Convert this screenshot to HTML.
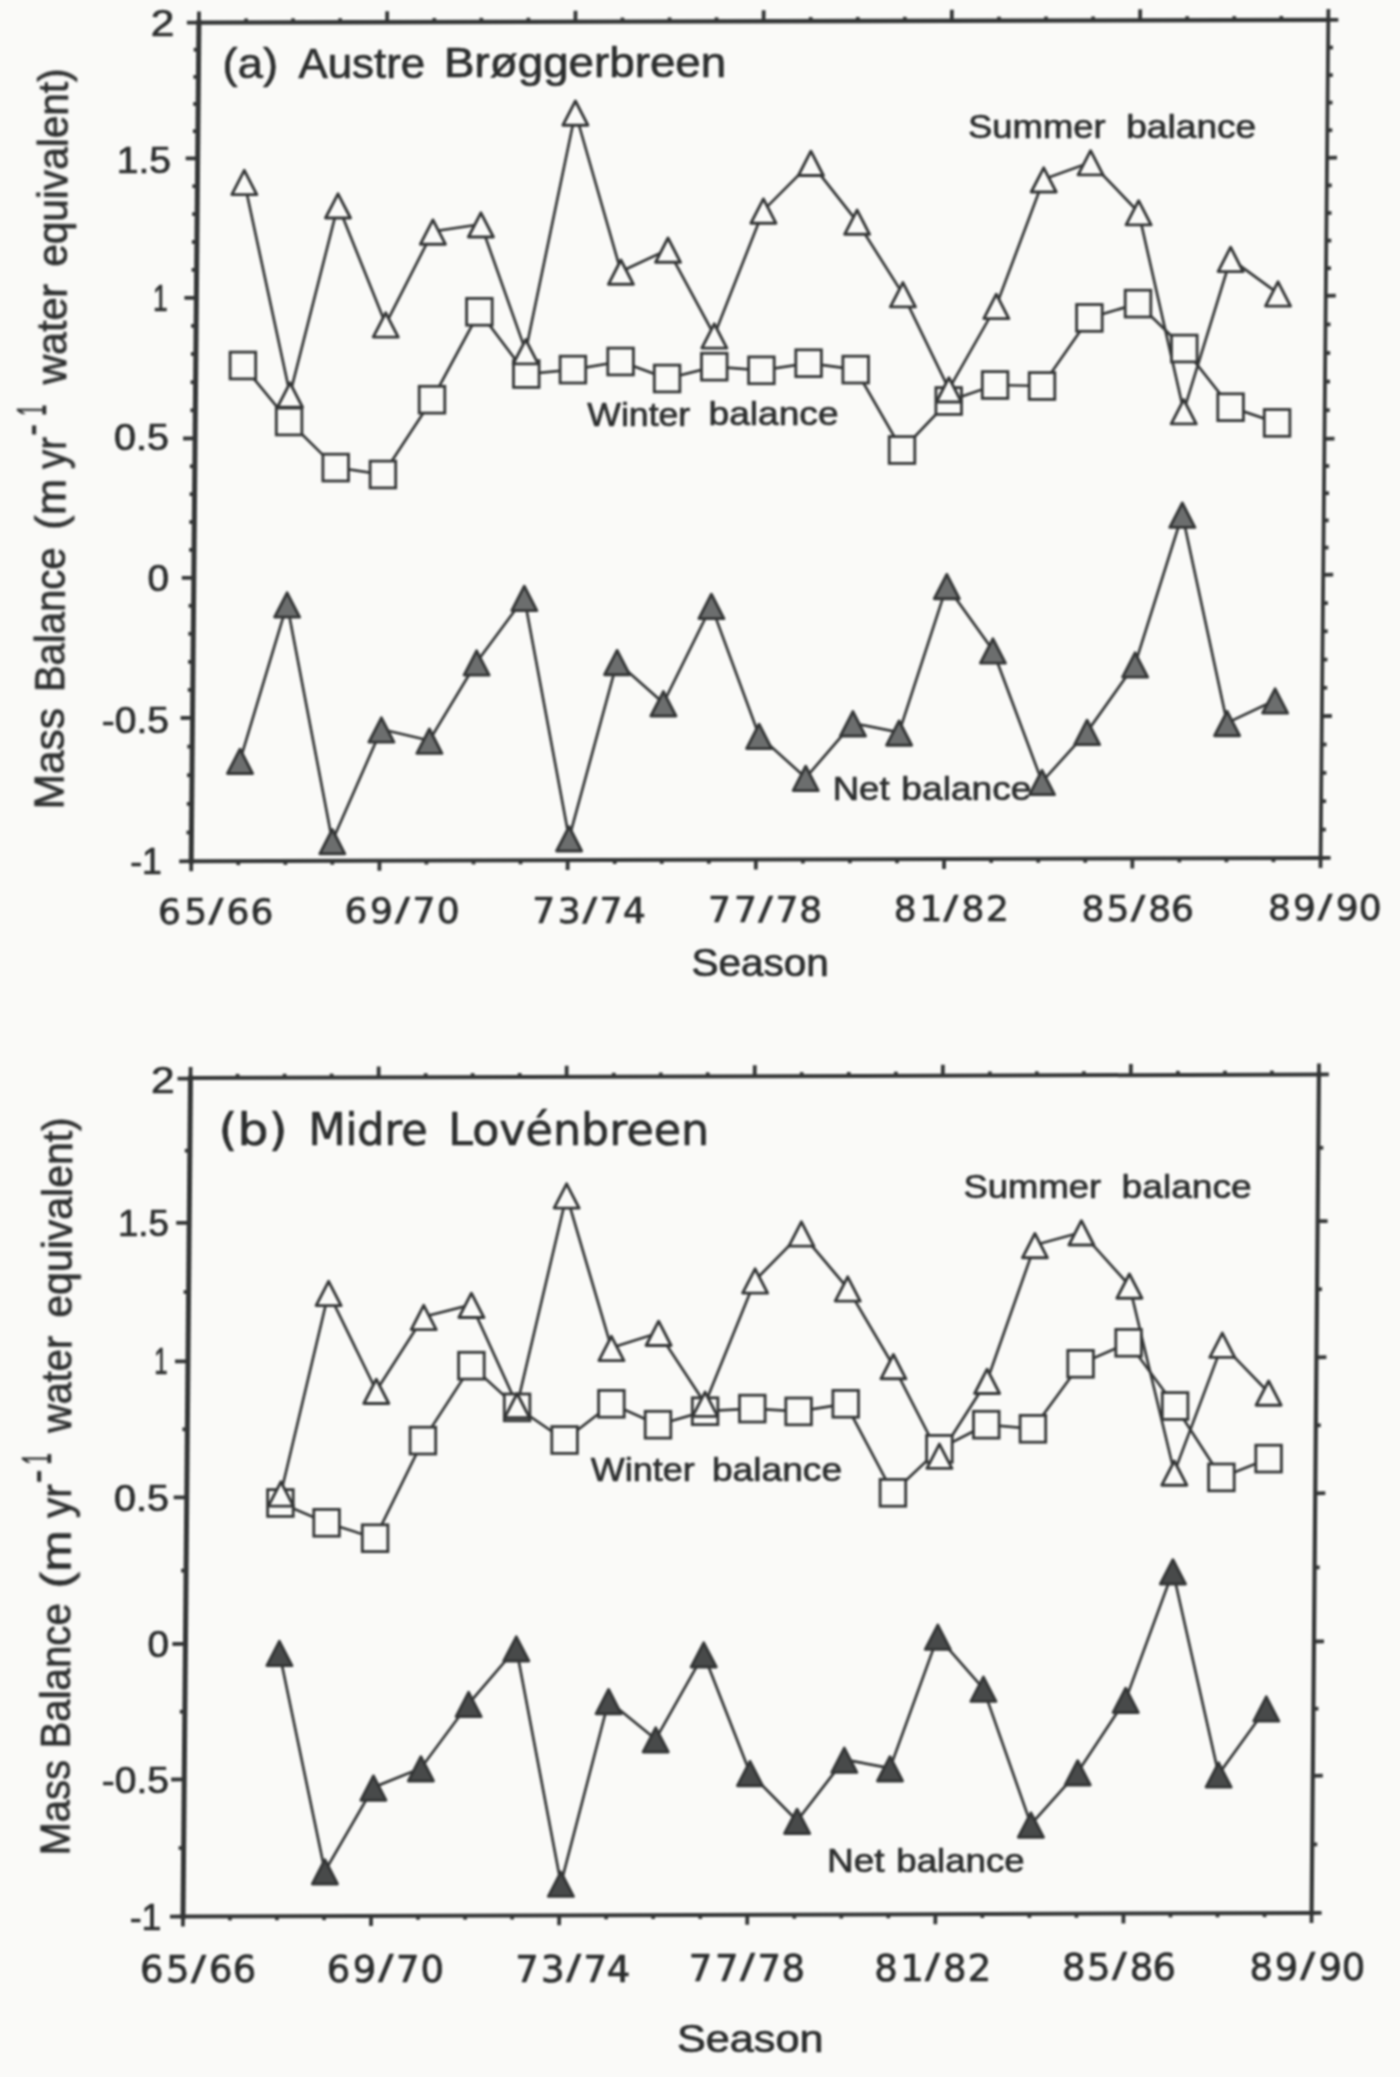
<!DOCTYPE html>
<html lang="en"><head><meta charset="utf-8"><title>Mass balance of Austre Brøggerbreen and Midre Lovénbreen</title>
<style>html,body{margin:0;padding:0;background:#fafaf8}body{width:1400px;height:2077px;overflow:hidden}svg{display:block}text{fill:#2c2e2e;stroke:#2c2e2e;stroke-width:0.7px;stroke-linejoin:round;white-space:pre}</style>
</head><body>
<svg width="1400" height="2077" viewBox="0 0 1400 2077">
<rect x="0" y="0" width="1400" height="2077" fill="#fafaf8"/>
<defs><filter id="soft" x="0" y="0" width="100%" height="100%" filterUnits="userSpaceOnUse" color-interpolation-filters="sRGB"><feGaussianBlur stdDeviation="0.85"/></filter></defs>
<g filter="url(#soft)">
<g stroke="#333535" fill="none" stroke-linecap="butt">
<path d="M191.2,861.2 L198.9,22.6" stroke-width="5.0" stroke-linecap="square"/>
<path d="M198.9,22.6 L1328.3,19.9" stroke-width="4.4" stroke-linecap="square"/>
<path d="M1328.3,19.9 L1320.6,858.0" stroke-width="3.8" stroke-linecap="square"/>
<path d="M1320.6,858.0 L191.2,861.2" stroke-width="4.0" stroke-linecap="square"/>
<line x1="198.9" y1="22.6" x2="199.0" y2="11.6" stroke-width="3.8"/>
<line x1="191.2" y1="861.2" x2="191.2" y2="871.2" stroke-width="3.8"/>
<line x1="246.0" y1="22.5" x2="246.1" y2="18.5" stroke-width="3.8"/>
<line x1="238.3" y1="861.1" x2="238.2" y2="865.1" stroke-width="3.8"/>
<line x1="293.0" y1="22.4" x2="293.1" y2="18.4" stroke-width="3.8"/>
<line x1="285.4" y1="860.9" x2="285.3" y2="864.9" stroke-width="3.8"/>
<line x1="340.1" y1="22.3" x2="340.2" y2="18.3" stroke-width="3.8"/>
<line x1="332.4" y1="860.8" x2="332.3" y2="864.8" stroke-width="3.8"/>
<line x1="387.1" y1="22.2" x2="387.2" y2="11.2" stroke-width="3.8"/>
<line x1="379.5" y1="860.7" x2="379.4" y2="870.7" stroke-width="3.8"/>
<line x1="434.2" y1="22.0" x2="434.3" y2="18.0" stroke-width="3.8"/>
<line x1="426.5" y1="860.5" x2="426.4" y2="864.5" stroke-width="3.8"/>
<line x1="481.2" y1="21.9" x2="481.4" y2="17.9" stroke-width="3.8"/>
<line x1="473.6" y1="860.4" x2="473.5" y2="864.4" stroke-width="3.8"/>
<line x1="528.3" y1="21.8" x2="528.4" y2="17.8" stroke-width="3.8"/>
<line x1="520.6" y1="860.3" x2="520.5" y2="864.3" stroke-width="3.8"/>
<line x1="575.4" y1="21.7" x2="575.5" y2="10.7" stroke-width="3.8"/>
<line x1="567.7" y1="860.1" x2="567.6" y2="870.1" stroke-width="3.8"/>
<line x1="622.4" y1="21.6" x2="622.5" y2="17.6" stroke-width="3.8"/>
<line x1="614.8" y1="860.0" x2="614.7" y2="864.0" stroke-width="3.8"/>
<line x1="669.5" y1="21.5" x2="669.6" y2="17.5" stroke-width="3.8"/>
<line x1="661.8" y1="859.9" x2="661.7" y2="863.9" stroke-width="3.8"/>
<line x1="716.5" y1="21.4" x2="716.6" y2="17.4" stroke-width="3.8"/>
<line x1="708.9" y1="859.7" x2="708.8" y2="863.7" stroke-width="3.8"/>
<line x1="763.6" y1="21.2" x2="763.7" y2="10.2" stroke-width="3.8"/>
<line x1="755.9" y1="859.6" x2="755.8" y2="869.6" stroke-width="3.8"/>
<line x1="810.7" y1="21.1" x2="810.8" y2="17.1" stroke-width="3.8"/>
<line x1="803.0" y1="859.5" x2="802.9" y2="863.5" stroke-width="3.8"/>
<line x1="857.7" y1="21.0" x2="857.8" y2="17.0" stroke-width="3.8"/>
<line x1="850.0" y1="859.3" x2="849.9" y2="863.3" stroke-width="3.8"/>
<line x1="904.8" y1="20.9" x2="904.9" y2="16.9" stroke-width="3.8"/>
<line x1="897.1" y1="859.2" x2="897.0" y2="863.2" stroke-width="3.8"/>
<line x1="951.8" y1="20.8" x2="951.9" y2="9.8" stroke-width="3.8"/>
<line x1="944.1" y1="859.1" x2="944.0" y2="869.1" stroke-width="3.8"/>
<line x1="998.9" y1="20.7" x2="999.0" y2="16.7" stroke-width="3.8"/>
<line x1="991.2" y1="858.9" x2="991.1" y2="862.9" stroke-width="3.8"/>
<line x1="1046.0" y1="20.6" x2="1046.0" y2="16.6" stroke-width="3.8"/>
<line x1="1038.3" y1="858.8" x2="1038.2" y2="862.8" stroke-width="3.8"/>
<line x1="1093.0" y1="20.5" x2="1093.1" y2="16.5" stroke-width="3.8"/>
<line x1="1085.3" y1="858.7" x2="1085.2" y2="862.7" stroke-width="3.8"/>
<line x1="1140.1" y1="20.3" x2="1140.2" y2="9.3" stroke-width="3.8"/>
<line x1="1132.4" y1="858.5" x2="1132.3" y2="868.5" stroke-width="3.8"/>
<line x1="1187.1" y1="20.2" x2="1187.2" y2="16.2" stroke-width="3.8"/>
<line x1="1179.4" y1="858.4" x2="1179.3" y2="862.4" stroke-width="3.8"/>
<line x1="1234.2" y1="20.1" x2="1234.3" y2="16.1" stroke-width="3.8"/>
<line x1="1226.5" y1="858.3" x2="1226.4" y2="862.3" stroke-width="3.8"/>
<line x1="1281.2" y1="20.0" x2="1281.3" y2="16.0" stroke-width="3.8"/>
<line x1="1273.5" y1="858.1" x2="1273.4" y2="862.1" stroke-width="3.8"/>
<line x1="1328.3" y1="19.9" x2="1328.4" y2="8.9" stroke-width="3.8"/>
<line x1="1320.6" y1="858.0" x2="1320.5" y2="868.0" stroke-width="3.8"/>
<line x1="186.9" y1="22.7" x2="198.9" y2="22.6" stroke-width="3.8"/>
<line x1="1328.3" y1="19.9" x2="1338.3" y2="19.8" stroke-width="3.8"/>
<line x1="193.7" y1="49.7" x2="198.7" y2="49.7" stroke-width="3.8"/>
<line x1="1328.0" y1="47.5" x2="1333.0" y2="47.5" stroke-width="3.8"/>
<line x1="193.4" y1="76.9" x2="198.4" y2="76.9" stroke-width="3.8"/>
<line x1="1327.8" y1="75.1" x2="1332.8" y2="75.1" stroke-width="3.8"/>
<line x1="193.2" y1="104.0" x2="198.2" y2="104.0" stroke-width="3.8"/>
<line x1="1327.5" y1="102.6" x2="1332.5" y2="102.6" stroke-width="3.8"/>
<line x1="192.9" y1="131.2" x2="197.9" y2="131.2" stroke-width="3.8"/>
<line x1="1327.3" y1="130.2" x2="1332.3" y2="130.2" stroke-width="3.8"/>
<line x1="185.7" y1="158.4" x2="197.7" y2="158.3" stroke-width="3.8"/>
<line x1="1327.0" y1="157.8" x2="1337.0" y2="157.7" stroke-width="3.8"/>
<line x1="192.4" y1="186.2" x2="197.4" y2="186.2" stroke-width="3.8"/>
<line x1="1326.8" y1="185.4" x2="1331.8" y2="185.4" stroke-width="3.8"/>
<line x1="192.2" y1="214.1" x2="197.2" y2="214.1" stroke-width="3.8"/>
<line x1="1326.5" y1="213.0" x2="1331.5" y2="213.0" stroke-width="3.8"/>
<line x1="191.9" y1="242.0" x2="196.9" y2="242.0" stroke-width="3.8"/>
<line x1="1326.3" y1="240.6" x2="1331.3" y2="240.6" stroke-width="3.8"/>
<line x1="191.6" y1="269.9" x2="196.6" y2="269.9" stroke-width="3.8"/>
<line x1="1326.0" y1="268.2" x2="1331.0" y2="268.2" stroke-width="3.8"/>
<line x1="184.4" y1="297.9" x2="196.4" y2="297.8" stroke-width="3.8"/>
<line x1="1325.8" y1="295.8" x2="1335.8" y2="295.7" stroke-width="3.8"/>
<line x1="191.1" y1="325.9" x2="196.1" y2="325.9" stroke-width="3.8"/>
<line x1="1325.5" y1="324.4" x2="1330.5" y2="324.4" stroke-width="3.8"/>
<line x1="190.9" y1="354.0" x2="195.9" y2="354.0" stroke-width="3.8"/>
<line x1="1325.2" y1="353.0" x2="1330.2" y2="353.0" stroke-width="3.8"/>
<line x1="190.6" y1="382.2" x2="195.6" y2="382.2" stroke-width="3.8"/>
<line x1="1325.0" y1="381.6" x2="1330.0" y2="381.6" stroke-width="3.8"/>
<line x1="190.4" y1="410.3" x2="195.4" y2="410.3" stroke-width="3.8"/>
<line x1="1324.7" y1="410.2" x2="1329.7" y2="410.2" stroke-width="3.8"/>
<line x1="183.1" y1="438.5" x2="195.1" y2="438.4" stroke-width="3.8"/>
<line x1="1324.5" y1="438.8" x2="1334.5" y2="438.7" stroke-width="3.8"/>
<line x1="189.9" y1="466.3" x2="194.9" y2="466.3" stroke-width="3.8"/>
<line x1="1324.2" y1="466.0" x2="1329.2" y2="466.0" stroke-width="3.8"/>
<line x1="189.6" y1="494.2" x2="194.6" y2="494.2" stroke-width="3.8"/>
<line x1="1324.0" y1="493.2" x2="1329.0" y2="493.2" stroke-width="3.8"/>
<line x1="189.3" y1="522.0" x2="194.3" y2="522.0" stroke-width="3.8"/>
<line x1="1323.7" y1="520.4" x2="1328.7" y2="520.4" stroke-width="3.8"/>
<line x1="189.1" y1="549.9" x2="194.1" y2="549.9" stroke-width="3.8"/>
<line x1="1323.5" y1="547.6" x2="1328.5" y2="547.6" stroke-width="3.8"/>
<line x1="181.8" y1="577.9" x2="193.8" y2="577.8" stroke-width="3.8"/>
<line x1="1323.2" y1="574.8" x2="1333.2" y2="574.7" stroke-width="3.8"/>
<line x1="188.6" y1="605.8" x2="193.6" y2="605.8" stroke-width="3.8"/>
<line x1="1322.9" y1="603.1" x2="1327.9" y2="603.1" stroke-width="3.8"/>
<line x1="188.3" y1="633.8" x2="193.3" y2="633.8" stroke-width="3.8"/>
<line x1="1322.7" y1="631.3" x2="1327.7" y2="631.3" stroke-width="3.8"/>
<line x1="188.1" y1="661.9" x2="193.1" y2="661.9" stroke-width="3.8"/>
<line x1="1322.4" y1="659.6" x2="1327.4" y2="659.6" stroke-width="3.8"/>
<line x1="187.8" y1="689.9" x2="192.8" y2="689.9" stroke-width="3.8"/>
<line x1="1322.2" y1="687.8" x2="1327.2" y2="687.8" stroke-width="3.8"/>
<line x1="180.6" y1="718.0" x2="192.6" y2="717.9" stroke-width="3.8"/>
<line x1="1321.9" y1="716.1" x2="1331.9" y2="716.0" stroke-width="3.8"/>
<line x1="187.3" y1="746.6" x2="192.3" y2="746.6" stroke-width="3.8"/>
<line x1="1321.6" y1="744.5" x2="1326.6" y2="744.5" stroke-width="3.8"/>
<line x1="187.0" y1="775.2" x2="192.0" y2="775.2" stroke-width="3.8"/>
<line x1="1321.4" y1="772.9" x2="1326.4" y2="772.9" stroke-width="3.8"/>
<line x1="186.8" y1="803.9" x2="191.8" y2="803.9" stroke-width="3.8"/>
<line x1="1321.1" y1="801.2" x2="1326.1" y2="801.2" stroke-width="3.8"/>
<line x1="186.5" y1="832.5" x2="191.5" y2="832.5" stroke-width="3.8"/>
<line x1="1320.9" y1="829.6" x2="1325.9" y2="829.6" stroke-width="3.8"/>
<line x1="179.2" y1="861.3" x2="191.2" y2="861.2" stroke-width="3.8"/>
<line x1="1320.6" y1="858.0" x2="1330.6" y2="857.9" stroke-width="3.8"/>
</g>
<g stroke="#333535" stroke-linejoin="miter">
<polyline points="242.9,365.4 289.1,421.5 335.7,467.6 382.9,474.5 432.0,399.7 479.4,311.8 526.3,374.0 572.9,369.6 620.6,361.5 667.1,378.5 714.3,366.7 761.4,370.3 808.6,363.1 855.7,369.6 902.0,450.0 948.7,401.0 995.1,385.0 1042.0,386.0 1089.4,317.9 1138.0,303.6 1184.3,348.5 1230.6,407.1 1277.1,422.9" fill="none" stroke-width="2.7"/>
<polyline points="244.3,181.8 290.0,394.2 338.0,205.2 385.7,324.2 432.9,231.4 480.9,224.2 525.7,351.1 575.4,112.5 620.9,271.5 668.0,249.5 714.3,335.2 763.4,210.4 810.9,162.8 857.1,221.6 902.9,294.1 948.9,389.2 996.3,305.8 1043.7,179.2 1090.6,162.2 1138.6,212.2 1183.7,411.1 1230.6,258.8 1278.0,293.3" fill="none" stroke-width="2.7"/>
<polyline points="240.0,760.7 287.1,604.2 332.3,841.0 381.4,729.3 429.4,740.5 476.6,662.2 524.3,597.8 569.1,838.2 617.1,661.9 663.4,703.1 711.4,605.8 759.1,735.8 805.7,777.8 852.9,723.1 899.1,732.4 946.8,585.9 992.9,650.2 1042.0,781.8 1087.1,731.8 1135.1,664.2 1182.3,514.5 1227.1,722.9 1275.1,700.2" fill="none" stroke-width="2.7"/>
<rect x="230.1" y="352.1" width="25.6" height="26.8" fill="#fafaf8" stroke-width="2.8"/>
<rect x="276.3" y="408.1" width="25.6" height="26.8" fill="#fafaf8" stroke-width="2.8"/>
<rect x="322.9" y="454.2" width="25.6" height="26.8" fill="#fafaf8" stroke-width="2.8"/>
<rect x="370.1" y="461.1" width="25.6" height="26.8" fill="#fafaf8" stroke-width="2.8"/>
<rect x="419.2" y="386.3" width="25.6" height="26.8" fill="#fafaf8" stroke-width="2.8"/>
<rect x="466.6" y="298.4" width="25.6" height="26.8" fill="#fafaf8" stroke-width="2.8"/>
<rect x="513.5" y="360.6" width="25.6" height="26.8" fill="#fafaf8" stroke-width="2.8"/>
<rect x="560.1" y="356.2" width="25.6" height="26.8" fill="#fafaf8" stroke-width="2.8"/>
<rect x="607.8" y="348.1" width="25.6" height="26.8" fill="#fafaf8" stroke-width="2.8"/>
<rect x="654.3" y="365.1" width="25.6" height="26.8" fill="#fafaf8" stroke-width="2.8"/>
<rect x="701.5" y="353.3" width="25.6" height="26.8" fill="#fafaf8" stroke-width="2.8"/>
<rect x="748.6" y="356.9" width="25.6" height="26.8" fill="#fafaf8" stroke-width="2.8"/>
<rect x="795.8" y="349.8" width="25.6" height="26.8" fill="#fafaf8" stroke-width="2.8"/>
<rect x="842.9" y="356.2" width="25.6" height="26.8" fill="#fafaf8" stroke-width="2.8"/>
<rect x="889.2" y="436.6" width="25.6" height="26.8" fill="#fafaf8" stroke-width="2.8"/>
<rect x="935.9" y="387.6" width="25.6" height="26.8" fill="#fafaf8" stroke-width="2.8"/>
<rect x="982.3" y="371.6" width="25.6" height="26.8" fill="#fafaf8" stroke-width="2.8"/>
<rect x="1029.2" y="372.6" width="25.6" height="26.8" fill="#fafaf8" stroke-width="2.8"/>
<rect x="1076.6" y="304.5" width="25.6" height="26.8" fill="#fafaf8" stroke-width="2.8"/>
<rect x="1125.2" y="290.2" width="25.6" height="26.8" fill="#fafaf8" stroke-width="2.8"/>
<rect x="1171.5" y="335.1" width="25.6" height="26.8" fill="#fafaf8" stroke-width="2.8"/>
<rect x="1217.8" y="393.8" width="25.6" height="26.8" fill="#fafaf8" stroke-width="2.8"/>
<rect x="1264.3" y="409.5" width="25.6" height="26.8" fill="#fafaf8" stroke-width="2.8"/>
<polygon points="244.3,170.3 256.8,194.6 231.8,194.6" fill="#fafaf8" stroke-width="2.9" stroke-linejoin="round"/>
<polygon points="290.0,382.8 302.5,407.1 277.5,407.1" fill="#fafaf8" stroke-width="2.9" stroke-linejoin="round"/>
<polygon points="338.0,193.8 350.5,218.0 325.5,218.0" fill="#fafaf8" stroke-width="2.9" stroke-linejoin="round"/>
<polygon points="385.7,312.8 398.2,337.1 373.2,337.1" fill="#fafaf8" stroke-width="2.9" stroke-linejoin="round"/>
<polygon points="432.9,219.9 445.4,244.2 420.4,244.2" fill="#fafaf8" stroke-width="2.9" stroke-linejoin="round"/>
<polygon points="480.9,212.8 493.4,237.0 468.4,237.0" fill="#fafaf8" stroke-width="2.9" stroke-linejoin="round"/>
<polygon points="525.7,339.6 538.2,363.9 513.2,363.9" fill="#fafaf8" stroke-width="2.9" stroke-linejoin="round"/>
<polygon points="575.4,101.0 587.9,125.2 562.9,125.2" fill="#fafaf8" stroke-width="2.9" stroke-linejoin="round"/>
<polygon points="620.9,260.0 633.4,284.3 608.4,284.3" fill="#fafaf8" stroke-width="2.9" stroke-linejoin="round"/>
<polygon points="668.0,238.0 680.5,262.3 655.5,262.3" fill="#fafaf8" stroke-width="2.9" stroke-linejoin="round"/>
<polygon points="714.3,323.8 726.8,348.1 701.8,348.1" fill="#fafaf8" stroke-width="2.9" stroke-linejoin="round"/>
<polygon points="763.4,198.9 775.9,223.2 750.9,223.2" fill="#fafaf8" stroke-width="2.9" stroke-linejoin="round"/>
<polygon points="810.9,151.2 823.4,175.5 798.4,175.5" fill="#fafaf8" stroke-width="2.9" stroke-linejoin="round"/>
<polygon points="857.1,210.1 869.6,234.3 844.6,234.3" fill="#fafaf8" stroke-width="2.9" stroke-linejoin="round"/>
<polygon points="902.9,282.6 915.4,306.9 890.4,306.9" fill="#fafaf8" stroke-width="2.9" stroke-linejoin="round"/>
<polygon points="948.9,377.7 961.4,402.0 936.4,402.0" fill="#fafaf8" stroke-width="2.9" stroke-linejoin="round"/>
<polygon points="996.3,294.2 1008.8,318.6 983.8,318.6" fill="#fafaf8" stroke-width="2.9" stroke-linejoin="round"/>
<polygon points="1043.7,167.8 1056.2,192.0 1031.2,192.0" fill="#fafaf8" stroke-width="2.9" stroke-linejoin="round"/>
<polygon points="1090.6,150.7 1103.1,174.9 1078.1,174.9" fill="#fafaf8" stroke-width="2.9" stroke-linejoin="round"/>
<polygon points="1138.6,200.7 1151.1,224.9 1126.1,224.9" fill="#fafaf8" stroke-width="2.9" stroke-linejoin="round"/>
<polygon points="1183.7,399.6 1196.2,423.9 1171.2,423.9" fill="#fafaf8" stroke-width="2.9" stroke-linejoin="round"/>
<polygon points="1230.6,247.2 1243.1,271.6 1218.1,271.6" fill="#fafaf8" stroke-width="2.9" stroke-linejoin="round"/>
<polygon points="1278.0,281.8 1290.5,306.1 1265.5,306.1" fill="#fafaf8" stroke-width="2.9" stroke-linejoin="round"/>
<polygon points="240.0,749.2 252.5,773.5 227.5,773.5" fill="#6c6e6e" stroke-width="2.9" stroke-linejoin="round"/>
<polygon points="287.1,592.8 299.6,617.1 274.6,617.1" fill="#6c6e6e" stroke-width="2.9" stroke-linejoin="round"/>
<polygon points="332.3,829.5 344.8,853.8 319.8,853.8" fill="#6c6e6e" stroke-width="2.9" stroke-linejoin="round"/>
<polygon points="381.4,717.8 393.9,742.1 368.9,742.1" fill="#6c6e6e" stroke-width="2.9" stroke-linejoin="round"/>
<polygon points="429.4,729.0 441.9,753.4 416.9,753.4" fill="#6c6e6e" stroke-width="2.9" stroke-linejoin="round"/>
<polygon points="476.6,650.8 489.1,675.1 464.1,675.1" fill="#6c6e6e" stroke-width="2.9" stroke-linejoin="round"/>
<polygon points="524.3,586.2 536.8,610.6 511.8,610.6" fill="#6c6e6e" stroke-width="2.9" stroke-linejoin="round"/>
<polygon points="569.1,826.7 581.6,851.0 556.6,851.0" fill="#6c6e6e" stroke-width="2.9" stroke-linejoin="round"/>
<polygon points="617.1,650.4 629.6,674.7 604.6,674.7" fill="#6c6e6e" stroke-width="2.9" stroke-linejoin="round"/>
<polygon points="663.4,691.6 675.9,716.0 650.9,716.0" fill="#6c6e6e" stroke-width="2.9" stroke-linejoin="round"/>
<polygon points="711.4,594.2 723.9,618.6 698.9,618.6" fill="#6c6e6e" stroke-width="2.9" stroke-linejoin="round"/>
<polygon points="759.1,724.2 771.6,748.6 746.6,748.6" fill="#6c6e6e" stroke-width="2.9" stroke-linejoin="round"/>
<polygon points="805.7,766.2 818.2,790.6 793.2,790.6" fill="#6c6e6e" stroke-width="2.9" stroke-linejoin="round"/>
<polygon points="852.9,711.6 865.4,736.0 840.4,736.0" fill="#6c6e6e" stroke-width="2.9" stroke-linejoin="round"/>
<polygon points="899.1,720.9 911.6,745.2 886.6,745.2" fill="#6c6e6e" stroke-width="2.9" stroke-linejoin="round"/>
<polygon points="946.8,574.4 959.3,598.7 934.3,598.7" fill="#6c6e6e" stroke-width="2.9" stroke-linejoin="round"/>
<polygon points="992.9,638.8 1005.4,663.1 980.4,663.1" fill="#6c6e6e" stroke-width="2.9" stroke-linejoin="round"/>
<polygon points="1042.0,770.3 1054.5,794.6 1029.5,794.6" fill="#6c6e6e" stroke-width="2.9" stroke-linejoin="round"/>
<polygon points="1087.1,720.2 1099.6,744.6 1074.6,744.6" fill="#6c6e6e" stroke-width="2.9" stroke-linejoin="round"/>
<polygon points="1135.1,652.8 1147.6,677.1 1122.6,677.1" fill="#6c6e6e" stroke-width="2.9" stroke-linejoin="round"/>
<polygon points="1182.3,503.0 1194.8,527.4 1169.8,527.4" fill="#6c6e6e" stroke-width="2.9" stroke-linejoin="round"/>
<polygon points="1227.1,711.4 1239.6,735.7 1214.6,735.7" fill="#6c6e6e" stroke-width="2.9" stroke-linejoin="round"/>
<polygon points="1275.1,688.8 1287.6,713.1 1262.6,713.1" fill="#6c6e6e" stroke-width="2.9" stroke-linejoin="round"/>
</g>
<text x="150.7" y="36.4" font-family="'Liberation Sans', sans-serif" font-size="36" stroke-width="1.3" textLength="23.6" lengthAdjust="spacingAndGlyphs">2</text>
<text x="116.7" y="172.7" font-family="'Liberation Sans', sans-serif" font-size="36" stroke-width="1.3" textLength="54.4" lengthAdjust="spacingAndGlyphs">1.5</text>
<text x="153.1" y="311.3" font-family="'Liberation Sans', sans-serif" font-size="36" stroke-width="1.3" textLength="14.7" lengthAdjust="spacingAndGlyphs">1</text>
<text x="114.1" y="449.5" font-family="'Liberation Sans', sans-serif" font-size="36" stroke-width="1.3" textLength="55.0" lengthAdjust="spacingAndGlyphs">0.5</text>
<text x="147.4" y="591.3" font-family="'Liberation Sans', sans-serif" font-size="36" stroke-width="1.3" textLength="21.5" lengthAdjust="spacingAndGlyphs">0</text>
<text x="101.7" y="732.9" font-family="'Liberation Sans', sans-serif" font-size="36" stroke-width="1.3" textLength="67.3" lengthAdjust="spacingAndGlyphs">-0.5</text>
<text x="130.2" y="873.9" font-family="'Liberation Sans', sans-serif" font-size="36" stroke-width="1.3" textLength="31.7" lengthAdjust="spacingAndGlyphs">-1</text>
<text font-family="'DejaVu Sans', sans-serif" font-size="36" stroke-width="0.8"><tspan x="157.9" y="923.7" textLength="49.2" lengthAdjust="spacing">65</tspan><tspan x="208.6" y="920.8" font-size="32.4" textLength="14.9" lengthAdjust="spacingAndGlyphs">/</tspan><tspan x="226.6" y="923.7" textLength="46.9" lengthAdjust="spacing">66</tspan></text>
<text font-family="'DejaVu Sans', sans-serif" font-size="36" stroke-width="0.8"><tspan x="344.6" y="923.1" textLength="48.4" lengthAdjust="spacing">69</tspan><tspan x="395.0" y="920.2" font-size="32.4" textLength="14.8" lengthAdjust="spacingAndGlyphs">/</tspan><tspan x="412.4" y="923.1" textLength="47.2" lengthAdjust="spacing">70</tspan></text>
<text font-family="'DejaVu Sans', sans-serif" font-size="36" stroke-width="0.8"><tspan x="532.2" y="922.6" textLength="48.5" lengthAdjust="spacing">73</tspan><tspan x="582.5" y="919.7" font-size="32.4" textLength="14.6" lengthAdjust="spacingAndGlyphs">/</tspan><tspan x="599.6" y="922.6" textLength="46.3" lengthAdjust="spacing">74</tspan></text>
<text font-family="'DejaVu Sans', sans-serif" font-size="36" stroke-width="0.8"><tspan x="708.0" y="921.8" textLength="48.8" lengthAdjust="spacing">77</tspan><tspan x="758.3" y="918.9" font-size="32.4" textLength="14.6" lengthAdjust="spacingAndGlyphs">/</tspan><tspan x="775.5" y="921.8" textLength="46.7" lengthAdjust="spacing">78</tspan></text>
<text font-family="'DejaVu Sans', sans-serif" font-size="36" stroke-width="0.8"><tspan x="893.7" y="921.2" textLength="48.7" lengthAdjust="spacing">81</tspan><tspan x="943.6" y="918.3" font-size="32.4" textLength="14.7" lengthAdjust="spacingAndGlyphs">/</tspan><tspan x="961.4" y="921.2" textLength="47.5" lengthAdjust="spacing">82</tspan></text>
<text font-family="'DejaVu Sans', sans-serif" font-size="36" stroke-width="0.8"><tspan x="1081.4" y="920.6" textLength="47.9" lengthAdjust="spacing">85</tspan><tspan x="1130.7" y="917.7" font-size="32.4" textLength="14.5" lengthAdjust="spacingAndGlyphs">/</tspan><tspan x="1148.2" y="920.6" textLength="45.6" lengthAdjust="spacing">86</tspan></text>
<text font-family="'DejaVu Sans', sans-serif" font-size="36" stroke-width="0.8"><tspan x="1268.1" y="920.2" textLength="47.8" lengthAdjust="spacing">89</tspan><tspan x="1317.8" y="917.3" font-size="32.4" textLength="14.6" lengthAdjust="spacingAndGlyphs">/</tspan><tspan x="1335.7" y="920.2" textLength="45.9" lengthAdjust="spacing">90</tspan></text>
<text font-family="'Liberation Sans', sans-serif" font-size="39" stroke-width="1.3"><tspan x="691.4" y="976.0" textLength="137.4" lengthAdjust="spacingAndGlyphs">Season</tspan></text>
<text font-family="'Liberation Sans', sans-serif" font-size="43" stroke-width="1.9"><tspan x="222.6" y="78.0" textLength="55.4" lengthAdjust="spacingAndGlyphs">(a)</tspan> <tspan x="298.5" y="77.6" textLength="126.7" lengthAdjust="spacingAndGlyphs">Austre</tspan> <tspan x="444.1" y="77.2" textLength="282.1" lengthAdjust="spacingAndGlyphs">Brøggerbreen</tspan></text>
<text font-family="'Liberation Sans', sans-serif" font-size="34" stroke-width="1.3"><tspan x="968.1" y="138.0" textLength="137.5" lengthAdjust="spacingAndGlyphs">Summer</tspan> <tspan x="1126.2" y="137.7" textLength="130.1" lengthAdjust="spacingAndGlyphs">balance</tspan></text>
<text font-family="'Liberation Sans', sans-serif" font-size="34" stroke-width="1.3"><tspan x="587.3" y="425.5" textLength="102.9" lengthAdjust="spacingAndGlyphs">Winter</tspan> <tspan x="708.5" y="425.2" textLength="130.1" lengthAdjust="spacingAndGlyphs">balance</tspan></text>
<text font-family="'Liberation Sans', sans-serif" font-size="34" stroke-width="1.3"><tspan x="832.7" y="799.9" textLength="56.9" lengthAdjust="spacingAndGlyphs">Net</tspan> <tspan x="901.3" y="799.7" textLength="130.2" lengthAdjust="spacingAndGlyphs">balance</tspan></text>
<text font-family="'Liberation Sans', sans-serif" font-size="43" stroke-width="1.9" transform="rotate(-89.64 63.0 806.5)"><tspan x="60.1" y="806.5" textLength="101.5" lengthAdjust="spacingAndGlyphs">Mass</tspan> <tspan x="177.4" y="806.5" textLength="144.5" lengthAdjust="spacingAndGlyphs">Balance</tspan> <tspan x="339.6" y="806.5" textLength="51.0" lengthAdjust="spacingAndGlyphs">(m</tspan> <tspan x="400.6" y="806.5" textLength="31.9" lengthAdjust="spacingAndGlyphs">yr</tspan><tspan font-size="43" x="433.6" y="786.5" textLength="11.8" lengthAdjust="spacingAndGlyphs">-</tspan><tspan font-size="43" x="453.6" y="786.5" textLength="11.2" lengthAdjust="spacingAndGlyphs">1</tspan> <tspan x="484.9" y="806.5" textLength="100.6" lengthAdjust="spacingAndGlyphs">water</tspan> <tspan x="602.7" y="806.5" textLength="198.4" lengthAdjust="spacingAndGlyphs">equivalent)</tspan></text>
<g stroke="#333535" fill="none" stroke-linecap="butt">
<path d="M183.0,1916.5 L190.5,1078.0" stroke-width="5.0" stroke-linecap="square"/>
<path d="M190.5,1078.0 L1318.9,1074.5" stroke-width="4.0" stroke-linecap="square"/>
<path d="M1318.9,1074.5 L1311.6,1913.0" stroke-width="4.2" stroke-linecap="square"/>
<path d="M1311.6,1913.0 L183.0,1916.5" stroke-width="4.0" stroke-linecap="square"/>
<line x1="190.5" y1="1078.0" x2="190.6" y2="1067.0" stroke-width="3.8"/>
<line x1="183.0" y1="1916.5" x2="182.9" y2="1926.5" stroke-width="3.8"/>
<line x1="237.5" y1="1077.9" x2="237.6" y2="1073.9" stroke-width="3.8"/>
<line x1="230.0" y1="1916.4" x2="229.9" y2="1920.4" stroke-width="3.8"/>
<line x1="284.5" y1="1077.7" x2="284.6" y2="1073.7" stroke-width="3.8"/>
<line x1="277.0" y1="1916.2" x2="276.9" y2="1920.2" stroke-width="3.8"/>
<line x1="331.6" y1="1077.6" x2="331.7" y2="1073.6" stroke-width="3.8"/>
<line x1="324.1" y1="1916.1" x2="324.0" y2="1920.1" stroke-width="3.8"/>
<line x1="378.6" y1="1077.4" x2="378.7" y2="1066.4" stroke-width="3.8"/>
<line x1="371.1" y1="1915.9" x2="371.0" y2="1925.9" stroke-width="3.8"/>
<line x1="425.6" y1="1077.3" x2="425.7" y2="1073.3" stroke-width="3.8"/>
<line x1="418.1" y1="1915.8" x2="418.0" y2="1919.8" stroke-width="3.8"/>
<line x1="472.6" y1="1077.1" x2="472.7" y2="1073.1" stroke-width="3.8"/>
<line x1="465.1" y1="1915.6" x2="465.0" y2="1919.6" stroke-width="3.8"/>
<line x1="519.6" y1="1077.0" x2="519.7" y2="1073.0" stroke-width="3.8"/>
<line x1="512.2" y1="1915.5" x2="512.1" y2="1919.5" stroke-width="3.8"/>
<line x1="566.6" y1="1076.8" x2="566.7" y2="1065.8" stroke-width="3.8"/>
<line x1="559.2" y1="1915.3" x2="559.1" y2="1925.3" stroke-width="3.8"/>
<line x1="613.7" y1="1076.7" x2="613.8" y2="1072.7" stroke-width="3.8"/>
<line x1="606.2" y1="1915.2" x2="606.1" y2="1919.2" stroke-width="3.8"/>
<line x1="660.7" y1="1076.5" x2="660.8" y2="1072.5" stroke-width="3.8"/>
<line x1="653.2" y1="1915.0" x2="653.1" y2="1919.0" stroke-width="3.8"/>
<line x1="707.7" y1="1076.4" x2="707.8" y2="1072.4" stroke-width="3.8"/>
<line x1="700.3" y1="1914.9" x2="700.2" y2="1918.9" stroke-width="3.8"/>
<line x1="754.7" y1="1076.2" x2="754.8" y2="1065.2" stroke-width="3.8"/>
<line x1="747.3" y1="1914.8" x2="747.2" y2="1924.8" stroke-width="3.8"/>
<line x1="801.7" y1="1076.1" x2="801.8" y2="1072.1" stroke-width="3.8"/>
<line x1="794.3" y1="1914.6" x2="794.2" y2="1918.6" stroke-width="3.8"/>
<line x1="848.7" y1="1076.0" x2="848.8" y2="1072.0" stroke-width="3.8"/>
<line x1="841.4" y1="1914.5" x2="841.2" y2="1918.5" stroke-width="3.8"/>
<line x1="895.8" y1="1075.8" x2="895.9" y2="1071.8" stroke-width="3.8"/>
<line x1="888.4" y1="1914.3" x2="888.3" y2="1918.3" stroke-width="3.8"/>
<line x1="942.8" y1="1075.7" x2="942.9" y2="1064.7" stroke-width="3.8"/>
<line x1="935.4" y1="1914.2" x2="935.3" y2="1924.2" stroke-width="3.8"/>
<line x1="989.8" y1="1075.5" x2="989.9" y2="1071.5" stroke-width="3.8"/>
<line x1="982.4" y1="1914.0" x2="982.3" y2="1918.0" stroke-width="3.8"/>
<line x1="1036.8" y1="1075.4" x2="1036.9" y2="1071.4" stroke-width="3.8"/>
<line x1="1029.4" y1="1913.9" x2="1029.3" y2="1917.9" stroke-width="3.8"/>
<line x1="1083.8" y1="1075.2" x2="1083.9" y2="1071.2" stroke-width="3.8"/>
<line x1="1076.5" y1="1913.7" x2="1076.4" y2="1917.7" stroke-width="3.8"/>
<line x1="1130.8" y1="1075.1" x2="1130.9" y2="1064.1" stroke-width="3.8"/>
<line x1="1123.5" y1="1913.6" x2="1123.4" y2="1923.6" stroke-width="3.8"/>
<line x1="1177.9" y1="1074.9" x2="1178.0" y2="1070.9" stroke-width="3.8"/>
<line x1="1170.5" y1="1913.4" x2="1170.4" y2="1917.4" stroke-width="3.8"/>
<line x1="1224.9" y1="1074.8" x2="1225.0" y2="1070.8" stroke-width="3.8"/>
<line x1="1217.5" y1="1913.3" x2="1217.5" y2="1917.3" stroke-width="3.8"/>
<line x1="1271.9" y1="1074.6" x2="1272.0" y2="1070.6" stroke-width="3.8"/>
<line x1="1264.6" y1="1913.1" x2="1264.5" y2="1917.1" stroke-width="3.8"/>
<line x1="1318.9" y1="1074.5" x2="1319.0" y2="1063.5" stroke-width="3.8"/>
<line x1="1311.6" y1="1913.0" x2="1311.5" y2="1923.0" stroke-width="3.8"/>
<line x1="177.5" y1="1078.7" x2="190.5" y2="1078.6" stroke-width="3.8"/>
<line x1="1318.9" y1="1074.5" x2="1328.9" y2="1074.4" stroke-width="3.8"/>
<line x1="184.8" y1="1150.7" x2="189.8" y2="1150.7" stroke-width="3.8"/>
<line x1="1318.3" y1="1147.8" x2="1323.3" y2="1147.8" stroke-width="3.8"/>
<line x1="176.2" y1="1222.9" x2="189.2" y2="1222.8" stroke-width="3.8"/>
<line x1="1317.6" y1="1221.2" x2="1327.6" y2="1221.1" stroke-width="3.8"/>
<line x1="183.6" y1="1292.0" x2="188.6" y2="1292.0" stroke-width="3.8"/>
<line x1="1317.0" y1="1289.2" x2="1322.0" y2="1289.2" stroke-width="3.8"/>
<line x1="175.0" y1="1361.4" x2="188.0" y2="1361.3" stroke-width="3.8"/>
<line x1="1316.4" y1="1357.3" x2="1326.4" y2="1357.2" stroke-width="3.8"/>
<line x1="182.4" y1="1429.3" x2="187.4" y2="1429.3" stroke-width="3.8"/>
<line x1="1315.8" y1="1425.3" x2="1320.8" y2="1425.3" stroke-width="3.8"/>
<line x1="173.7" y1="1497.4" x2="186.7" y2="1497.3" stroke-width="3.8"/>
<line x1="1315.3" y1="1493.3" x2="1325.3" y2="1493.2" stroke-width="3.8"/>
<line x1="181.1" y1="1570.6" x2="186.1" y2="1570.6" stroke-width="3.8"/>
<line x1="1314.6" y1="1567.4" x2="1319.6" y2="1567.4" stroke-width="3.8"/>
<line x1="172.4" y1="1644.0" x2="185.4" y2="1643.9" stroke-width="3.8"/>
<line x1="1314.0" y1="1641.5" x2="1324.0" y2="1641.4" stroke-width="3.8"/>
<line x1="179.8" y1="1711.7" x2="184.8" y2="1711.7" stroke-width="3.8"/>
<line x1="1313.4" y1="1708.7" x2="1318.4" y2="1708.7" stroke-width="3.8"/>
<line x1="171.2" y1="1779.5" x2="184.2" y2="1779.4" stroke-width="3.8"/>
<line x1="1312.8" y1="1775.8" x2="1322.8" y2="1775.7" stroke-width="3.8"/>
<line x1="178.6" y1="1848.0" x2="183.6" y2="1848.0" stroke-width="3.8"/>
<line x1="1312.2" y1="1844.4" x2="1317.2" y2="1844.4" stroke-width="3.8"/>
<line x1="170.0" y1="1916.6" x2="183.0" y2="1916.5" stroke-width="3.8"/>
<line x1="1311.6" y1="1913.0" x2="1321.6" y2="1912.9" stroke-width="3.8"/>
</g>
<g stroke="#333535" stroke-linejoin="miter">
<polyline points="280.4,1503.0 326.6,1522.8 375.1,1538.2 422.9,1440.6 471.4,1365.7 517.1,1407.5 564.6,1440.0 611.4,1403.8 658.0,1424.7 705.1,1411.2 752.3,1408.6 798.6,1411.4 845.7,1403.8 892.9,1492.8 939.4,1448.8 986.3,1424.7 1032.9,1428.8 1080.6,1363.8 1128.6,1342.8 1175.1,1406.0 1221.4,1477.5 1268.6,1458.6" fill="none" stroke-width="2.7"/>
<polyline points="280.9,1493.3 328.6,1292.8 376.3,1390.8 423.7,1316.8 471.4,1304.7 517.1,1405.0 566.6,1195.3 611.4,1347.8 658.6,1332.8 705.1,1403.6 755.1,1280.3 801.4,1233.3 847.7,1288.3 893.4,1366.0 939.4,1455.6 987.1,1380.8 1034.9,1245.0 1081.4,1232.2 1129.4,1285.5 1174.3,1472.5 1222.3,1344.6 1268.6,1392.5" fill="none" stroke-width="2.7"/>
<polyline points="279.4,1652.8 324.9,1871.2 373.4,1787.4 420.9,1768.2 468.6,1703.8 516.3,1648.2 560.9,1883.6 608.6,1701.0 655.7,1739.2 703.7,1654.2 750.0,1772.9 797.1,1820.8 844.3,1759.6 890.0,1768.2 937.8,1636.6 983.4,1688.6 1030.9,1824.4 1077.7,1772.2 1125.7,1699.7 1172.9,1571.2 1218.6,1774.3 1266.3,1708.3" fill="none" stroke-width="2.7"/>
<rect x="267.6" y="1489.6" width="25.6" height="26.8" fill="#fafaf8" stroke-width="2.8"/>
<rect x="313.8" y="1509.4" width="25.6" height="26.8" fill="#fafaf8" stroke-width="2.8"/>
<rect x="362.3" y="1524.8" width="25.6" height="26.8" fill="#fafaf8" stroke-width="2.8"/>
<rect x="410.1" y="1427.2" width="25.6" height="26.8" fill="#fafaf8" stroke-width="2.8"/>
<rect x="458.6" y="1352.3" width="25.6" height="26.8" fill="#fafaf8" stroke-width="2.8"/>
<rect x="504.3" y="1394.0" width="25.6" height="26.8" fill="#fafaf8" stroke-width="2.8"/>
<rect x="551.8" y="1426.6" width="25.6" height="26.8" fill="#fafaf8" stroke-width="2.8"/>
<rect x="598.6" y="1390.4" width="25.6" height="26.8" fill="#fafaf8" stroke-width="2.8"/>
<rect x="645.2" y="1411.3" width="25.6" height="26.8" fill="#fafaf8" stroke-width="2.8"/>
<rect x="692.3" y="1397.8" width="25.6" height="26.8" fill="#fafaf8" stroke-width="2.8"/>
<rect x="739.5" y="1395.2" width="25.6" height="26.8" fill="#fafaf8" stroke-width="2.8"/>
<rect x="785.8" y="1398.0" width="25.6" height="26.8" fill="#fafaf8" stroke-width="2.8"/>
<rect x="832.9" y="1390.4" width="25.6" height="26.8" fill="#fafaf8" stroke-width="2.8"/>
<rect x="880.1" y="1479.4" width="25.6" height="26.8" fill="#fafaf8" stroke-width="2.8"/>
<rect x="926.6" y="1435.4" width="25.6" height="26.8" fill="#fafaf8" stroke-width="2.8"/>
<rect x="973.5" y="1411.3" width="25.6" height="26.8" fill="#fafaf8" stroke-width="2.8"/>
<rect x="1020.1" y="1415.4" width="25.6" height="26.8" fill="#fafaf8" stroke-width="2.8"/>
<rect x="1067.8" y="1350.4" width="25.6" height="26.8" fill="#fafaf8" stroke-width="2.8"/>
<rect x="1115.8" y="1329.4" width="25.6" height="26.8" fill="#fafaf8" stroke-width="2.8"/>
<rect x="1162.3" y="1392.6" width="25.6" height="26.8" fill="#fafaf8" stroke-width="2.8"/>
<rect x="1208.6" y="1464.0" width="25.6" height="26.8" fill="#fafaf8" stroke-width="2.8"/>
<rect x="1255.8" y="1445.2" width="25.6" height="26.8" fill="#fafaf8" stroke-width="2.8"/>
<polygon points="280.9,1481.8 293.4,1506.1 268.4,1506.1" fill="#fafaf8" stroke-width="2.9" stroke-linejoin="round"/>
<polygon points="328.6,1281.3 341.1,1305.6 316.1,1305.6" fill="#fafaf8" stroke-width="2.9" stroke-linejoin="round"/>
<polygon points="376.3,1379.2 388.8,1403.5 363.8,1403.5" fill="#fafaf8" stroke-width="2.9" stroke-linejoin="round"/>
<polygon points="423.7,1305.3 436.2,1329.6 411.2,1329.6" fill="#fafaf8" stroke-width="2.9" stroke-linejoin="round"/>
<polygon points="471.4,1293.2 483.9,1317.5 458.9,1317.5" fill="#fafaf8" stroke-width="2.9" stroke-linejoin="round"/>
<polygon points="517.1,1393.5 529.6,1417.8 504.6,1417.8" fill="#fafaf8" stroke-width="2.9" stroke-linejoin="round"/>
<polygon points="566.6,1183.8 579.1,1208.1 554.1,1208.1" fill="#fafaf8" stroke-width="2.9" stroke-linejoin="round"/>
<polygon points="611.4,1336.3 623.9,1360.6 598.9,1360.6" fill="#fafaf8" stroke-width="2.9" stroke-linejoin="round"/>
<polygon points="658.6,1321.2 671.1,1345.5 646.1,1345.5" fill="#fafaf8" stroke-width="2.9" stroke-linejoin="round"/>
<polygon points="705.1,1392.1 717.6,1416.4 692.6,1416.4" fill="#fafaf8" stroke-width="2.9" stroke-linejoin="round"/>
<polygon points="755.1,1268.8 767.6,1293.1 742.6,1293.1" fill="#fafaf8" stroke-width="2.9" stroke-linejoin="round"/>
<polygon points="801.4,1221.8 813.9,1246.1 788.9,1246.1" fill="#fafaf8" stroke-width="2.9" stroke-linejoin="round"/>
<polygon points="847.7,1276.8 860.2,1301.1 835.2,1301.1" fill="#fafaf8" stroke-width="2.9" stroke-linejoin="round"/>
<polygon points="893.4,1354.5 905.9,1378.8 880.9,1378.8" fill="#fafaf8" stroke-width="2.9" stroke-linejoin="round"/>
<polygon points="939.4,1444.1 951.9,1468.4 926.9,1468.4" fill="#fafaf8" stroke-width="2.9" stroke-linejoin="round"/>
<polygon points="987.1,1369.2 999.6,1393.5 974.6,1393.5" fill="#fafaf8" stroke-width="2.9" stroke-linejoin="round"/>
<polygon points="1034.9,1233.5 1047.4,1257.8 1022.4,1257.8" fill="#fafaf8" stroke-width="2.9" stroke-linejoin="round"/>
<polygon points="1081.4,1220.7 1093.9,1245.0 1068.9,1245.0" fill="#fafaf8" stroke-width="2.9" stroke-linejoin="round"/>
<polygon points="1129.4,1274.0 1141.9,1298.2 1116.9,1298.2" fill="#fafaf8" stroke-width="2.9" stroke-linejoin="round"/>
<polygon points="1174.3,1461.0 1186.8,1485.2 1161.8,1485.2" fill="#fafaf8" stroke-width="2.9" stroke-linejoin="round"/>
<polygon points="1222.3,1333.1 1234.8,1357.4 1209.8,1357.4" fill="#fafaf8" stroke-width="2.9" stroke-linejoin="round"/>
<polygon points="1268.6,1381.0 1281.1,1405.2 1256.1,1405.2" fill="#fafaf8" stroke-width="2.9" stroke-linejoin="round"/>
<polygon points="279.4,1641.3 291.9,1665.6 266.9,1665.6" fill="#484a4a" stroke-width="2.9" stroke-linejoin="round"/>
<polygon points="324.9,1859.7 337.4,1884.0 312.4,1884.0" fill="#484a4a" stroke-width="2.9" stroke-linejoin="round"/>
<polygon points="373.4,1775.9 385.9,1800.2 360.9,1800.2" fill="#484a4a" stroke-width="2.9" stroke-linejoin="round"/>
<polygon points="420.9,1756.7 433.4,1781.0 408.4,1781.0" fill="#484a4a" stroke-width="2.9" stroke-linejoin="round"/>
<polygon points="468.6,1692.3 481.1,1716.6 456.1,1716.6" fill="#484a4a" stroke-width="2.9" stroke-linejoin="round"/>
<polygon points="516.3,1636.8 528.8,1661.0 503.8,1661.0" fill="#484a4a" stroke-width="2.9" stroke-linejoin="round"/>
<polygon points="560.9,1872.1 573.4,1896.4 548.4,1896.4" fill="#484a4a" stroke-width="2.9" stroke-linejoin="round"/>
<polygon points="608.6,1689.5 621.1,1713.8 596.1,1713.8" fill="#484a4a" stroke-width="2.9" stroke-linejoin="round"/>
<polygon points="655.7,1727.8 668.2,1752.0 643.2,1752.0" fill="#484a4a" stroke-width="2.9" stroke-linejoin="round"/>
<polygon points="703.7,1642.8 716.2,1667.0 691.2,1667.0" fill="#484a4a" stroke-width="2.9" stroke-linejoin="round"/>
<polygon points="750.0,1761.4 762.5,1785.7 737.5,1785.7" fill="#484a4a" stroke-width="2.9" stroke-linejoin="round"/>
<polygon points="797.1,1809.2 809.6,1833.5 784.6,1833.5" fill="#484a4a" stroke-width="2.9" stroke-linejoin="round"/>
<polygon points="844.3,1748.1 856.8,1772.4 831.8,1772.4" fill="#484a4a" stroke-width="2.9" stroke-linejoin="round"/>
<polygon points="890.0,1756.7 902.5,1781.0 877.5,1781.0" fill="#484a4a" stroke-width="2.9" stroke-linejoin="round"/>
<polygon points="937.8,1625.1 950.3,1649.4 925.3,1649.4" fill="#484a4a" stroke-width="2.9" stroke-linejoin="round"/>
<polygon points="983.4,1677.1 995.9,1701.4 970.9,1701.4" fill="#484a4a" stroke-width="2.9" stroke-linejoin="round"/>
<polygon points="1030.9,1812.9 1043.4,1837.2 1018.4,1837.2" fill="#484a4a" stroke-width="2.9" stroke-linejoin="round"/>
<polygon points="1077.7,1760.7 1090.2,1785.0 1065.2,1785.0" fill="#484a4a" stroke-width="2.9" stroke-linejoin="round"/>
<polygon points="1125.7,1688.2 1138.2,1712.5 1113.2,1712.5" fill="#484a4a" stroke-width="2.9" stroke-linejoin="round"/>
<polygon points="1172.9,1559.7 1185.4,1584.0 1160.4,1584.0" fill="#484a4a" stroke-width="2.9" stroke-linejoin="round"/>
<polygon points="1218.6,1762.8 1231.1,1787.1 1206.1,1787.1" fill="#484a4a" stroke-width="2.9" stroke-linejoin="round"/>
<polygon points="1266.3,1696.8 1278.8,1721.1 1253.8,1721.1" fill="#484a4a" stroke-width="2.9" stroke-linejoin="round"/>
</g>
<text x="151.1" y="1092.6" font-family="'Liberation Sans', sans-serif" font-size="36" stroke-width="1.3" textLength="23.6" lengthAdjust="spacingAndGlyphs">2</text>
<text x="117.9" y="1236.2" font-family="'Liberation Sans', sans-serif" font-size="36" stroke-width="1.3" textLength="51.0" lengthAdjust="spacingAndGlyphs">1.5</text>
<text x="154.2" y="1374.2" font-family="'Liberation Sans', sans-serif" font-size="36" stroke-width="1.3" textLength="13.4" lengthAdjust="spacingAndGlyphs">1</text>
<text x="114.1" y="1510.7" font-family="'Liberation Sans', sans-serif" font-size="36" stroke-width="1.3" textLength="55.0" lengthAdjust="spacingAndGlyphs">0.5</text>
<text x="147.4" y="1657.3" font-family="'Liberation Sans', sans-serif" font-size="36" stroke-width="1.3" textLength="21.5" lengthAdjust="spacingAndGlyphs">0</text>
<text x="101.7" y="1792.8" font-family="'Liberation Sans', sans-serif" font-size="36" stroke-width="1.3" textLength="67.3" lengthAdjust="spacingAndGlyphs">-0.5</text>
<text x="129.7" y="1930.4" font-family="'Liberation Sans', sans-serif" font-size="36" stroke-width="1.3" textLength="31.7" lengthAdjust="spacingAndGlyphs">-1</text>
<text font-family="'DejaVu Sans', sans-serif" font-size="37" stroke-width="0.8"><tspan x="140.0" y="1982.4" textLength="49.6" lengthAdjust="spacing">65</tspan><tspan x="191.0" y="1979.5" font-size="33.3" textLength="15.0" lengthAdjust="spacingAndGlyphs">/</tspan><tspan x="209.1" y="1982.4" textLength="47.2" lengthAdjust="spacing">66</tspan></text>
<text font-family="'DejaVu Sans', sans-serif" font-size="37" stroke-width="0.8"><tspan x="326.8" y="1982.0" textLength="49.4" lengthAdjust="spacing">69</tspan><tspan x="378.2" y="1979.1" font-size="33.3" textLength="15.2" lengthAdjust="spacingAndGlyphs">/</tspan><tspan x="396.0" y="1982.0" textLength="48.1" lengthAdjust="spacing">70</tspan></text>
<text font-family="'DejaVu Sans', sans-serif" font-size="37" stroke-width="0.8"><tspan x="515.3" y="1981.5" textLength="49.2" lengthAdjust="spacing">73</tspan><tspan x="566.2" y="1978.6" font-size="33.3" textLength="14.8" lengthAdjust="spacingAndGlyphs">/</tspan><tspan x="583.5" y="1981.5" textLength="46.9" lengthAdjust="spacing">74</tspan></text>
<text font-family="'DejaVu Sans', sans-serif" font-size="37" stroke-width="0.8"><tspan x="688.7" y="1981.0" textLength="49.8" lengthAdjust="spacing">77</tspan><tspan x="740.0" y="1978.1" font-size="33.3" textLength="14.9" lengthAdjust="spacingAndGlyphs">/</tspan><tspan x="757.4" y="1981.0" textLength="47.7" lengthAdjust="spacing">78</tspan></text>
<text font-family="'DejaVu Sans', sans-serif" font-size="37" stroke-width="0.8"><tspan x="874.3" y="1980.5" textLength="49.4" lengthAdjust="spacing">81</tspan><tspan x="925.0" y="1977.6" font-size="33.3" textLength="14.9" lengthAdjust="spacingAndGlyphs">/</tspan><tspan x="943.0" y="1980.5" textLength="48.2" lengthAdjust="spacing">82</tspan></text>
<text font-family="'DejaVu Sans', sans-serif" font-size="37" stroke-width="0.8"><tspan x="1062.0" y="1980.1" textLength="48.6" lengthAdjust="spacing">85</tspan><tspan x="1112.0" y="1977.2" font-size="33.3" textLength="14.7" lengthAdjust="spacingAndGlyphs">/</tspan><tspan x="1129.7" y="1980.1" textLength="46.3" lengthAdjust="spacing">86</tspan></text>
<text font-family="'DejaVu Sans', sans-serif" font-size="37" stroke-width="0.8"><tspan x="1249.6" y="1979.8" textLength="48.7" lengthAdjust="spacing">89</tspan><tspan x="1300.3" y="1976.9" font-size="33.3" textLength="14.9" lengthAdjust="spacingAndGlyphs">/</tspan><tspan x="1318.5" y="1979.8" textLength="46.8" lengthAdjust="spacing">90</tspan></text>
<text font-family="'Liberation Sans', sans-serif" font-size="39" stroke-width="1.3"><tspan x="676.9" y="2051.7" textLength="146.7" lengthAdjust="spacingAndGlyphs">Season</tspan></text>
<text font-family="'DejaVu Sans', sans-serif" font-size="45" stroke-width="1.8"><tspan x="218.4" y="1145.3" textLength="69.1" lengthAdjust="spacingAndGlyphs">(b)</tspan> <tspan x="308.4" y="1145.0" textLength="119.2" lengthAdjust="spacingAndGlyphs">Midre</tspan> <tspan x="448.3" y="1144.7" textLength="260.8" lengthAdjust="spacingAndGlyphs">Lovénbreen</tspan></text>
<text font-family="'Liberation Sans', sans-serif" font-size="34" stroke-width="1.3"><tspan x="963.6" y="1197.9" textLength="137.5" lengthAdjust="spacingAndGlyphs">Summer</tspan> <tspan x="1121.6" y="1197.6" textLength="130.2" lengthAdjust="spacingAndGlyphs">balance</tspan></text>
<text font-family="'Liberation Sans', sans-serif" font-size="34" stroke-width="1.3"><tspan x="590.8" y="1481.2" textLength="104.0" lengthAdjust="spacingAndGlyphs">Winter</tspan> <tspan x="711.9" y="1480.9" textLength="130.2" lengthAdjust="spacingAndGlyphs">balance</tspan></text>
<text font-family="'Liberation Sans', sans-serif" font-size="34" stroke-width="1.3"><tspan x="827.0" y="1872.2" textLength="57.6" lengthAdjust="spacingAndGlyphs">Net</tspan> <tspan x="896.3" y="1872.0" textLength="128.4" lengthAdjust="spacingAndGlyphs">balance</tspan></text>
<text font-family="'Liberation Sans', sans-serif" font-size="43" stroke-width="1.9" transform="rotate(-89.78 69.4 1852.9)"><tspan x="66.7" y="1852.9" textLength="95.7" lengthAdjust="spacingAndGlyphs">Mass</tspan> <tspan x="173.7" y="1852.9" textLength="145.4" lengthAdjust="spacingAndGlyphs">Balance</tspan> <tspan x="333.8" y="1852.9" textLength="58.1" lengthAdjust="spacingAndGlyphs">(m</tspan> <tspan x="404.2" y="1852.9" textLength="33.7" lengthAdjust="spacingAndGlyphs">yr</tspan><tspan font-size="43" x="439.0" y="1832.9" textLength="13.7" lengthAdjust="spacingAndGlyphs">-</tspan><tspan font-size="43" x="457.8" y="1832.9" textLength="11.2" lengthAdjust="spacingAndGlyphs">1</tspan> <tspan x="489.4" y="1852.9" textLength="97.0" lengthAdjust="spacingAndGlyphs">water</tspan> <tspan x="604.6" y="1852.9" textLength="200.4" lengthAdjust="spacingAndGlyphs">equivalent)</tspan></text>
</g>
</svg>
</body></html>
